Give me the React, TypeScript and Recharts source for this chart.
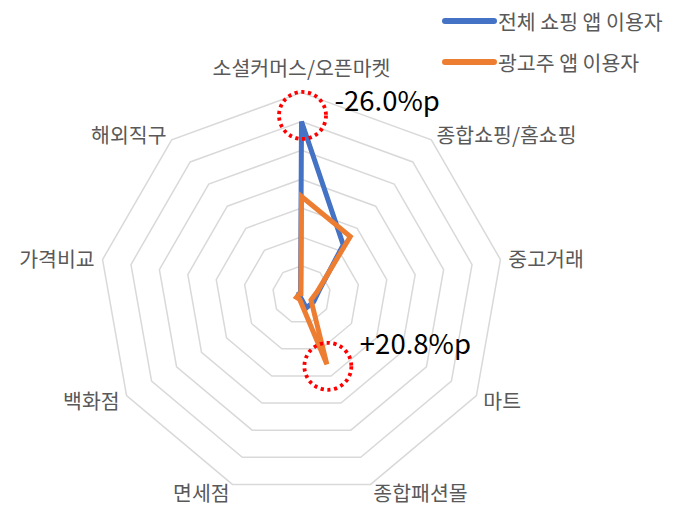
import { RadarChart, Radar, PolarGrid, PolarAngleAxis, PolarRadiusAxis, Legend } from "recharts";

const FONT = "'Noto Sans CJK KR', 'Noto Sans', sans-serif";

const categories = [
  "소셜커머스/오픈마켓",
  "종합쇼핑/홈쇼핑",
  "중고거래",
  "마트",
  "종합패션몰",
  "면세점",
  "백화점",
  "가격비교",
  "해외직구",
];
const allShoppers = [60.0, 22.5, 6.0, 4.9, 4.9, 1.0, 1.5, 1.0, 0.5];
const advertisers = [34.0, 26.3, 5.5, 3.8, 25.7, 1.8, 2.0, 0.8, 0.3];
const seriesNames = ["전체 쇼핑 앱 이용자", "광고주 앱 이용자"];
const colors = ["#4472C4", "#ED7D31"];

// gap callouts: which series / category gets the dotted circle
const gapLabels = ["-26.0%p", "+20.8%p"];
const gapIndex = [0, 4];

const data = categories.map((name, i) => ({ name, all: allShoppers[i], adv: advertisers[i] }));

const AngleTick = (props: any) => {
  const { x, y, textAnchor, payload } = props;
  const dy = textAnchor === "middle" ? -18 : 0;
  return (
    <text
      x={x}
      y={y + dy}
      textAnchor={textAnchor}
      dominantBaseline="central"
      fontFamily={FONT}
      fontSize={20.5}
      fill="#595959"
    >
      {payload.value}
    </text>
  );
};

const makeDot = (s: number) => (props: any) => {
  const { cx, cy, index } = props;
  if (index !== gapIndex[s]) return <g key={`dot-${s}-${index}`} />;
  const circleDy = s === 0 ? -6 : 2;
  return (
    <g key={`dot-${s}-${index}`}>
      <circle
        cx={cx + 1}
        cy={cy + circleDy}
        r={23.5}
        fill="none"
        stroke="#FF0000"
        strokeWidth={3.8}
        strokeDasharray="3.2 3.6"
      />
      <text
        x={cx + 33}
        y={cy - 22}
        dominantBaseline="central"
        fontFamily={FONT}
        fontSize={27.5}
        fill="#000"
      >
        {gapLabels[s]}
      </text>
    </g>
  );
};

const renderLegend = () => (
  <div style={{ fontFamily: FONT, fontSize: 20.5, color: "#595959" }}>
    {seriesNames.map((n, i) => (
      <div key={n} style={{ display: "flex", alignItems: "center", height: 41, whiteSpace: "nowrap" }}>
        <span
          style={{ display: "inline-block", width: 55, height: 6, borderRadius: 3, background: colors[i], marginRight: 1 }}
        />
        <span>{n}</span>
      </div>
    ))}
  </div>
);

export default function App() {
  return (
    <RadarChart width={666} height={500} data={data} cx={293.5} cy={286.6} outerRadius={202}>
      <PolarGrid gridType="polygon" radialLines={false} stroke="#D9D9D9" strokeWidth={1.5} />
      <PolarRadiusAxis domain={[0, 70]} tickCount={8} tick={false} axisLine={false} />
      <PolarAngleAxis dataKey="name" tick={AngleTick} tickLine={false} axisLine={false} />
      <Radar
        name={seriesNames[0]}
        dataKey="all"
        stroke={colors[0]}
        strokeWidth={5}
        fill="none"
        fillOpacity={0}
        dot={makeDot(0)}
        isAnimationActive={false}
      />
      <Radar
        name={seriesNames[1]}
        dataKey="adv"
        stroke={colors[1]}
        strokeWidth={5}
        fill="none"
        fillOpacity={0}
        dot={makeDot(1)}
        isAnimationActive={false}
      />
      <Legend content={renderLegend} wrapperStyle={{ position: "absolute", left: 434, top: -8, width: 240 }} />
    </RadarChart>
  );
}
